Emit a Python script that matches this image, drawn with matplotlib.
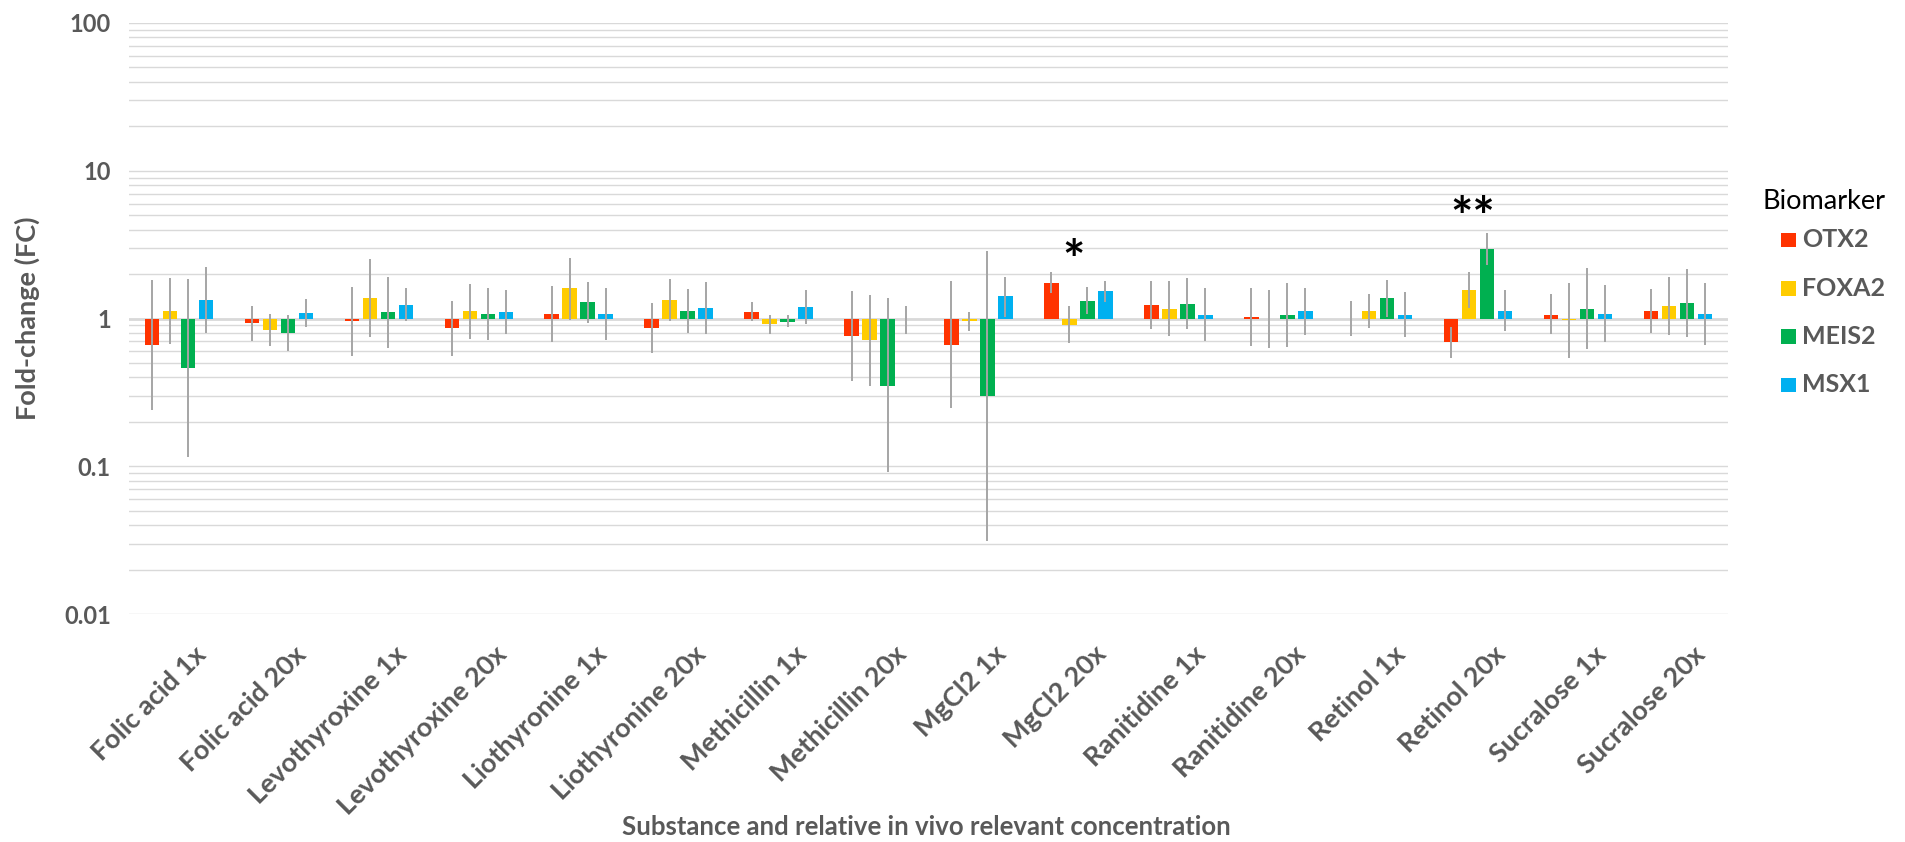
import matplotlib
matplotlib.use("Agg")
import matplotlib.pyplot as plt
import numpy as np
from matplotlib.patches import Rectangle
from matplotlib.ticker import LogLocator, NullFormatter, FixedLocator
from matplotlib.transforms import ScaledTranslation

plt.rcParams["font.family"] = ["Lato", "DejaVu Sans"]

# Substances and relative concentrations
categories = [
    "Folic acid 1x", "Folic acid 20x", "Levothyroxine 1x", "Levothyroxine 20x",
    "Liothyronine 1x", "Liothyronine 20x", "Methicillin 1x", "Methicillin 20x",
    "MgCl2 1x", "MgCl2 20x", "Ranitidine 1x", "Ranitidine 20x",
    "Retinol 1x", "Retinol 20x", "Sucralose 1x", "Sucralose 20x",
]

# Fold-change per biomarker, with lower / upper ends of the error bars
otx2_fc = [0.66, 0.93, 0.96, 0.86, 1.07, 0.86, 1.10, 0.76, 0.66, 1.73, 1.23, 1.03, 0.99, 0.69, 1.06, 1.12]
otx2_lo = [0.24, 0.70, 0.56, 0.56, 0.69, 0.58, 0.96, 0.38, 0.246, 1.48, 0.85, 0.65, 0.76, 0.54, 0.78, 0.80]
otx2_hi = [1.82, 1.22, 1.63, 1.31, 1.66, 1.27, 1.29, 1.53, 1.79, 2.05, 1.79, 1.62, 1.31, 0.88, 1.46, 1.58]

foxa2_fc = [1.12, 0.84, 1.37, 1.12, 1.60, 1.33, 0.92, 0.71, 0.96, 0.91, 1.16, 0.99, 1.12, 1.56, 0.98, 1.21]
foxa2_lo = [0.67, 0.65, 0.75, 0.73, 0.97, 0.96, 0.79, 0.35, 0.82, 0.68, 0.76, 0.63, 0.86, 1.18, 0.54, 0.77]
foxa2_hi = [1.87, 1.07, 2.52, 1.71, 2.55, 1.85, 1.05, 1.44, 1.11, 1.21, 1.79, 1.57, 1.46, 2.08, 1.73, 1.91]

meis2_fc = [0.46, 0.80, 1.10, 1.08, 1.29, 1.12, 0.95, 0.35, 0.30, 1.32, 1.26, 1.06, 1.38, 2.94, 1.16, 1.27]
meis2_lo = [0.115, 0.60, 0.63, 0.72, 0.93, 0.80, 0.87, 0.091, 0.031, 1.07, 0.85, 0.64, 1.02, 2.31, 0.62, 0.75]
meis2_hi = [1.84, 1.06, 1.92, 1.62, 1.78, 1.58, 1.05, 1.37, 2.87, 1.63, 1.87, 1.74, 1.82, 3.78, 2.18, 2.16]

msx1_fc = [1.33, 1.09, 1.24, 1.10, 1.08, 1.17, 1.20, 0.99, 1.41, 1.53, 1.06, 1.12, 1.06, 1.13, 1.07, 1.07]
msx1_lo = [0.80, 0.88, 0.96, 0.78, 0.72, 0.78, 0.915, 0.79, 1.02, 1.30, 0.70, 0.77, 0.75, 0.82, 0.69, 0.66]
msx1_hi = [2.23, 1.35, 1.60, 1.55, 1.60, 1.78, 1.57, 1.22, 1.92, 1.80, 1.60, 1.62, 1.50, 1.57, 1.68, 1.73]

biomarkers = ["OTX2", "FOXA2", "MEIS2", "MSX1"]
colors = ["#FF3300", "#FFCC00", "#00B050", "#00B0F0"]

# Significance marks: category, text, height on the FC axis
significance = [("MgCl2 20x", "*", 2.36), ("Retinol 20x", "**", 4.6)]

series = [
    (otx2_fc, otx2_lo, otx2_hi),
    (foxa2_fc, foxa2_lo, foxa2_hi),
    (meis2_fc, meis2_lo, meis2_hi),
    (msx1_fc, msx1_lo, msx1_hi),
]

TEXT_GREY = "#595959"
GRID = "#D9D9D9"
W, H = 1906, 842


def fx(px):
    return px / W


def fy(py):
    return 1 - py / H


fig = plt.figure(figsize=(W / 100, H / 100), dpi=100)
ax = fig.add_axes([fx(129), fy(614), (1728 - 129) / W, (614 - 23) / H])

ax.set_yscale("log")
ax.set_ylim(0.01, 100)
ax.set_xlim(-0.5, len(categories) - 0.5)

x = np.arange(len(categories))
step = 0.18
width = 0.145
offsets = (np.arange(4) - 1.5) * step

for (fc, lo, hi), name, col, off in zip(series, biomarkers, colors, offsets):
    fc = np.asarray(fc)
    ax.bar(x + off, fc - 1.0, bottom=1.0, width=width, color=col,
           label=name, zorder=3)
    ax.vlines(x + off, lo, hi, color="#A5A5A5", linewidth=1.4, zorder=4)

# Grid: decades plus intermediate lines
ax.yaxis.set_major_locator(FixedLocator([0.01, 0.1, 1, 10, 100]))
ax.yaxis.set_minor_locator(LogLocator(base=10, subs=np.arange(2, 10)))
ax.yaxis.set_minor_formatter(NullFormatter())
ax.set_yticklabels(["0.01", "0.1", "1", "10", "100"])
ax.grid(True, which="both", axis="y", color=GRID, linewidth=1.0, zorder=0)
ax.axhline(1.0, color=GRID, linewidth=2.0, zorder=2)

for s in ax.spines.values():
    s.set_visible(False)

ax.tick_params(axis="y", which="both", length=0, pad=13, labelsize=17,
               labelcolor=TEXT_GREY)
for lbl in ax.get_yticklabels():
    lbl.set_fontweight("bold")

ax.set_xticks(x)
ax.set_xticklabels(categories, rotation=45, ha="right", va="top",
                   rotation_mode="anchor", fontsize=19.5, fontweight="bold",
                   color=TEXT_GREY)
ax.tick_params(axis="x", length=0, pad=20)
shift = ScaledTranslation(15 / 100, 0, fig.dpi_scale_trans)
for lbl in ax.get_xticklabels():
    lbl.set_transform(lbl.get_transform() + shift)

# Significance asterisks
for cat, mark, yv in significance:
    i = categories.index(cat)
    ax.text(i - 0.05, yv, mark, ha="center", va="center", fontsize=38,
            fontweight="bold", color="black", zorder=5)

fig.text(fx(27), fy(318), "Fold-change (FC)", rotation=90,
         ha="center", va="center", fontsize=19.5, fontweight="bold",
         color=TEXT_GREY)
fig.text(fx(926), fy(835), "Substance and relative in vivo relevant concentration",
         ha="center", va="baseline", fontsize=18.5, fontweight="bold",
         color=TEXT_GREY)

# Legend: title, colour swatches and biomarker names
fig.text(fx(1763), fy(209), "Biomarker", ha="left", va="baseline",
         fontsize=19.5, color="black")
for k, (name, col) in enumerate(zip(biomarkers, colors)):
    top = 232.7 + k * 48.3
    fig.add_artist(Rectangle((fx(1781), fy(top + 14.5)), 15 / W, 14.5 / H,
                             transform=fig.transFigure, color=col, lw=0))
    fig.text(fx(1802), fy(top + 14.5), name, ha="left", va="baseline",
             fontsize=18, fontweight="bold", color=TEXT_GREY)

fig.savefig("out.png", dpi=100)
